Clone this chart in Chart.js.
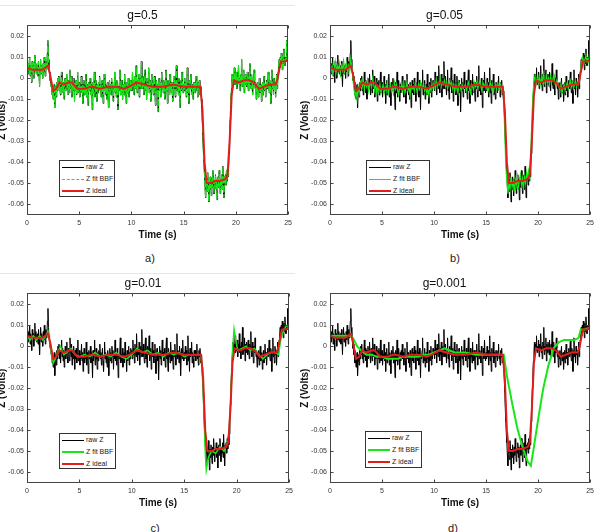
<!DOCTYPE html>
<html><head><meta charset="utf-8">
<script src="https://cdn.jsdelivr.net/npm/chart.js@4.4.1/dist/chart.umd.min.js"></script>
<style>
html,body{margin:0;padding:0;background:#fff;width:598px;height:532px;overflow:hidden;position:relative;font-family:"Liberation Sans",Arial,sans-serif}
canvas{position:absolute}
.tag{position:absolute;font-size:11px;color:#222;transform:translate(-50%,-50%)}
.rule{position:absolute;height:1px;background:#e6e6e6}
.leg{position:absolute;border:1px solid #333;background:#fff;font-size:7px;color:#222;padding:0 2px;box-sizing:border-box}
.leg div{height:12px;line-height:12px;white-space:nowrap}
.leg i{display:inline-block;width:22px;vertical-align:middle;margin-right:2px}
</style></head>
<body>
<div class="rule" style="left:0;top:5px;width:295px"></div>
<div class="rule" style="left:0;top:273px;width:295px"></div>
<script>
// ---------- data (values in millivolts, time in seconds) ----------
const xTicks = [0, 5, 10, 15, 20, 25];
const yTicks = [-0.06, -0.05, -0.04, -0.03, -0.02, -0.01, 0, 0.01, 0.02];
const seriesNames = ['raw Z', 'Z fit BBF', 'Z ideal'];
const panelTitles = ['g=0.5', 'g=0.05', 'g=0.01', 'g=0.001'];
const panelTags = ['a)', 'b)', 'c)', 'd)'];

// raw Z (mV), sampled every 0.05 s from t = 0 (one row per second)
const rawDt = 0.05;
const rawZmV = [
 5,9,2,7,4,10,1,6,3,-2,8,4,6,0,5,11,3,7,2,5,
 6,1,8,3,-4,5,9,2,6,4,0,7,3,10,5,1,8,4,6,12,
 18,9,5,3,-1,1,-4,-2,-8,-5,-10,-6,-3,-14,-7,-4,-9,-2,-6,0,
 -4,1,-6,-2,-8,-3,3,-5,-1,-7,-2,-10,-4,0,-6,-3,2,-5,-8,-1,
 -3,-7,4,-2,-5,1,-9,-3,-6,0,-4,-11,-2,-6,-1,-8,-4,3,-7,-5,
 -2,-9,-4,-6,1,-7,-3,-12,-5,-1,-8,-4,-6,2,-9,-3,-5,-13,-2,-6,
 -4,0,-8,-3,-6,-15,-2,-7,-4,3,-9,-5,-1,-6,-11,-3,-7,-2,-5,1,
 -6,-3,-9,-4,-1,-7,-12,-5,2,-6,-3,-8,-4,-10,-2,-6,-14,-4,-1,-7,
 -3,-8,0,-5,-2,-11,-4,-6,3,-7,-3,-9,-1,-5,-15,-4,-6,-2,4,-8,
 -4,-7,-1,-10,-5,-3,-8,2,-6,-4,-12,-2,-7,-5,0,-9,-3,-6,-1,-4,
 -2,-6,3,-4,-1,-8,1,-3,-5,6,-2,-7,-1,-4,2,-9,-3,0,-5,8,
 -2,-5,1,-4,-8,-1,4,-6,-3,-10,0,-4,-2,5,-7,-3,-1,-11,-4,2,
 -5,-2,-8,-3,1,-6,-13,-4,-1,-7,-3,-16,-5,0,-6,-2,-9,-4,3,-5,
 -3,-7,-1,-5,-10,-2,4,-6,-4,-12,-1,-5,-3,-8,2,-4,-7,-2,-6,-11,
 -2,-5,1,-4,-9,-3,6,-6,-2,-4,-8,0,-3,-14,-5,-1,-6,3,-4,-7,
 -3,-6,0,-5,-2,-9,-4,5,-7,-3,-12,-1,-5,-4,2,-8,-3,-6,-10,-2,
 -5,-2,-7,-3,1,-6,-4,-9,-2,-5,-1,-8,-4,-6,-10,-16,-22,-30,-36,-42,
 -46,-52,-57,-48,-51,-54,-45,-50,-59,-49,-53,-47,-51,-56,-48,-52,-44,-50,-55,-49,
 -51,-46,-53,-48,-58,-50,-47,-52,-44,-49,-55,-48,-51,-46,-53,-42,-50,-57,-47,-49,
 -46,-51,-44,-49,-43,-47,-42,-36,-28,-20,-13,-7,-3,2,-4,1,-2,5,-3,0,
 -2,3,-5,1,-1,6,-3,0,-6,2,-1,9,-4,0,-2,4,-7,1,-3,2,
 0,-4,3,-2,-6,1,-1,7,-3,-5,2,-2,-8,0,-3,4,-1,-5,-2,-10,
 -3,-6,-2,-9,-4,0,-7,-5,-3,-11,-6,-2,-8,-4,1,-6,-3,-9,-4,-1,
 -5,-2,3,-4,-7,-1,-3,-12,-2,4,-5,-3,-8,0,-4,-2,-9,-3,2,-5,
 -2,3,6,9,5,10,7,12,8,4,11,7,14,9,6,10,8,18,9,11,
 9
];

// Z ideal: [time s, mV]
const idealZ = [
 [0,5],[0.5,4],[1,4],[1.5,4],[2.0,6],[2.2,2],[2.5,-6],[2.8,-5],[3.1,-2],[3.5,-3],
 [4.0,-2],[4.3,-2],[4.8,-5],[5.5,-5],[6.2,-4],[7.0,-5],[7.8,-4],[8.5,-4],[9.3,-5],[9.8,-4],
 [10.5,-2],[11.2,-3],[12.0,-4],[13.0,-4],[14.0,-3],[15.0,-4],[16.0,-4],[16.6,-4],[16.8,-15],[17.0,-40],
 [17.2,-50],[17.6,-50],[18.0,-49],[18.5,-49],[19.0,-48],[19.2,-46],[19.4,-30],[19.6,-8],[19.8,-1],[20.3,-2],
 [20.8,-1],[21.3,-1],[21.7,-2],[22.2,-5],[22.7,-4],[23.2,-3],[23.8,-3],[24.0,0],[24.3,8],[24.7,8],[25,9]
];

// Z fit BBF, g=0.05 (mV), sampled every 0.1 s from t = 0 (one row per second)
const fitBDt = 0.1;
const fitBmV = [
 7,3,6,2,5,8,3,6,4,7,
 2,6,4,8,3,5,7,2,6,4,
 9,5,0,-5,-8,-6,-10,-4,-7,-2,
 -1,-4,0,-5,-2,-4,-1,-6,-3,-2,
 -4,0,-3,-6,-2,-7,-4,-6,-3,-7,
 -5,-3,-7,-4,-6,-2,-7,-5,-3,-6,
 -4,-7,-2,-5,-3,-6,-8,-4,-5,-2,
 -6,-3,-7,-5,-2,-6,-4,-8,-3,-5,
 -4,-6,-2,-5,-7,-3,-5,-2,-6,-4,
 -3,-6,-4,-7,-5,-8,-4,-6,-3,-5,
 -2,-5,-1,-4,-2,-3,0,-4,-2,-3,
 -1,-4,-2,-5,-3,-1,-4,-2,-5,-3,
 -6,-3,-5,-7,-2,-4,-6,-3,-5,-4,
 -3,-6,-4,-2,-5,-7,-3,-4,-6,-2,
 -4,-2,-5,-3,-1,-4,-6,-2,-4,-3,
 -5,-3,-6,-4,-2,-5,-3,-7,-4,-3,
 -5,-2,-4,-6,-3,-5,-4,-12,-26,-42,
 -49,-55,-50,-53,-47,-52,-49,-54,-48,-51,
 -47,-52,-49,-46,-51,-48,-53,-47,-50,-45,
 -48,-44,-47,-35,-20,-8,-2,1,-3,0,
 -2,1,-3,0,-2,2,-1,-3,1,-2,
 0,-3,1,-2,-1,2,-2,-4,-1,-3,
 -4,-6,-3,-7,-5,-3,-6,-4,-2,-5,
 -3,-1,-4,-2,-5,-3,-1,-4,-2,-3,
 1,5,8,10,7,9,11,8,10,7,
 9
];

// Z fit BBF, g=0.01: [time s, mV]
const fitC = [
 [0,5],[0.3,3],[0.6,5],[0.9,3],[1.2,5],[1.5,3],[1.8,5],[2.0,7],[2.2,1],[2.5,-8],
 [2.7,-6],[3.0,-2],[3.2,0],[3.5,-4],[3.8,-3],[4.2,-1],[4.6,-4],[5.0,-5],[5.5,-4],[6.0,-5],
 [6.5,-3],[7.0,-5],[7.5,-4],[8.0,-5],[8.5,-3],[9.0,-5],[9.5,-6],[10.0,-4],[10.5,-1],[11.0,-3],
 [11.5,-2],[12.0,-4],[12.5,-3],[13.0,-5],[13.5,-3],[14.0,-4],[14.5,-3],[15.0,-5],[15.5,-4],[16.0,-4],
 [16.6,-4],[16.8,-20],[17.0,-50],[17.1,-59],[17.3,-53],[17.6,-50],[18.0,-51],[18.4,-48],[18.8,-50],[19.2,-45],
 [19.4,-30],[19.6,-2],[19.75,8],[19.9,3],[20.1,-2],[20.5,-1],[20.9,0],[21.3,-2],[21.7,-1],[22.1,-4],
 [22.5,-6],[22.9,-4],[23.3,-3],[23.7,-3],[24.0,-4],[24.2,3],[24.5,8],[24.8,10],[25,9]
];

// Z fit BBF, g=0.001: [time s, mV]
const fitD = [
 [0,5],[0.5,5],[1,5],[1.5,5],[2.0,5],[2.2,4],[2.6,0],[3.0,-2],[3.5,-4],[4.0,-4],
 [4.5,-5],[5.0,-5],[5.5,-6],[6.0,-6],[6.5,-6],[7.0,-5],[7.5,-5],[8.0,-5],[8.5,-5],[9.0,-4],
 [9.5,-4],[10.0,-3],[10.5,-2],[11.0,-1],[11.5,-2],[12.0,-3],[13.0,-3],[14.0,-4],[15.0,-4],[16.0,-4],
 [16.7,-4],[17.0,-14],[17.5,-27],[18.0,-39],[18.5,-48],[19.0,-55],[19.3,-57],[19.6,-48],[20.0,-35],[20.5,-20],
 [21.0,-9],[21.5,-1],[22.0,2],[22.5,3],[23.0,3],[23.5,3],[23.9,4],[24.1,8],[24.5,8],[25,9]
];

// ---------- rendering ----------
const FONT = '"Liberation Sans", Arial, sans-serif';
const GREEN = '#19e619', RED = '#e01e1e', BLACK = '#000';
const MV = 0.001; // millivolt -> volt
const seqPts = (arr, dt) => arr.map((v, i) => ({x: i * dt, y: v * MV}));
const pairPts = a => a.map(p => ({x: p[0], y: p[1] * MV}));
const rawPts = seqPts(rawZmV, rawDt);
const idealPts = pairPts(idealZ);
const fitBPts = seqPts(fitBmV, fitBDt);

const frame = {id: 'frame', afterDraw(chart) {
  const {ctx, chartArea: a, scales: {x, y}} = chart;
  ctx.save(); ctx.strokeStyle = '#444'; ctx.lineWidth = 1;
  const L = Math.round(a.left) + .5, R = Math.round(a.right) - .5, T = Math.round(a.top) + .5, B = Math.round(a.bottom) - .5;
  ctx.strokeRect(L, T, R - L, B - T);
  ctx.beginPath();
  x.ticks.forEach(t => { const p = Math.round(x.getPixelForValue(t.value)) + .5; ctx.moveTo(p, B); ctx.lineTo(p, B - 3); ctx.moveTo(p, T); ctx.lineTo(p, T + 3); });
  y.ticks.forEach(t => { const p = Math.round(y.getPixelForValue(t.value)) + .5; ctx.moveTo(L, p); ctx.lineTo(L + 3, p); ctx.moveTo(R, p); ctx.lineTo(R - 3, p); });
  ctx.stroke(); ctx.restore();
}};

const panels = [
  {left: -5, top: 0, w: 301, padR: 6, fit: rawPts, fitW: 1.2, fitDash: [7, 2], leg: [59, 160, 56, 37], tag: [150, 258]},
  {left: 298, top: 0, w: 300, padR: 7, fit: fitBPts, fitW: 1.2, fitDash: [], leg: [366, 160, 64, 35], tag: [455, 258]},
  {left: -5, top: 268, w: 302, padR: 6, fit: pairPts(fitC), fitW: 1.5, fitDash: [], leg: [59, 433, 57, 36], tag: [155, 528]},
  {left: 298, top: 268, w: 300, padR: 7, fit: pairPts(fitD), fitW: 2, fitDash: [], leg: [365, 431, 57, 37], tag: [453, 528]}
];
const H = 245;

panels.forEach((p, k) => {
  const c = document.createElement('canvas');
  c.width = p.w; c.height = H;
  c.style.left = p.left + 'px'; c.style.top = p.top + 'px';
  c.style.width = p.w + 'px'; c.style.height = H + 'px';
  document.body.appendChild(c);
  const tickFont = {family: FONT, size: 7};
  new Chart(c, {
    type: 'line',
    data: {datasets: [
      {label: seriesNames[0], data: rawPts, borderColor: BLACK, borderWidth: 1, pointRadius: 0, order: 3},
      {label: seriesNames[1], data: p.fit, borderColor: GREEN, borderWidth: p.fitW, borderDash: p.fitDash, pointRadius: 0, order: 2},
      {label: seriesNames[2], data: idealPts, borderColor: RED, borderWidth: 2, pointRadius: 0, order: 1}
    ]},
    options: {
      responsive: false, animation: false, devicePixelRatio: 1,
      layout: {padding: {left: 0, right: p.padR, top: 0, bottom: 0}},
      plugins: {
        legend: {display: false}, tooltip: {enabled: false},
        title: {display: true, text: panelTitles[k], color: '#111', font: {family: FONT, size: 12, weight: 'normal'}, padding: {top: 8, bottom: 3}}
      },
      scales: {
        x: {type: 'linear', min: 0, max: 25,
          afterBuildTicks: s => { s.ticks = xTicks.map(v => ({value: v})); },
          afterFit: s => { s.height = 30; },
          grid: {display: false, drawTicks: false}, border: {display: false},
          ticks: {font: tickFont, color: '#333', padding: 4, maxRotation: 0, autoSkip: false},
          title: {display: true, text: 'Time (s)', color: '#111', font: {family: FONT, size: 10, weight: 'bold'}, padding: {top: 0, bottom: 4}}},
        y: {type: 'linear', min: -0.0652, max: 0.0252,
          afterBuildTicks: s => { s.ticks = yTicks.map(v => ({value: v})); },
          afterFit: s => { s.width = 32; },
          grid: {display: false, drawTicks: false}, border: {display: false},
          ticks: {font: tickFont, color: '#333', padding: 3, autoSkip: false, callback: v => String(+v.toFixed(2))},
          title: {display: true, text: 'Z (Volts)', color: '#111', font: {family: FONT, size: 10, weight: 'bold'}, padding: {top: 1, bottom: 0}}}
      }
    },
    plugins: [frame]
  });

  // legend inside the axes (lower left)
  const lg = document.createElement('div');
  lg.className = 'leg';
  lg.style.left = p.leg[0] + 'px'; lg.style.top = p.leg[1] + 'px';
  lg.style.width = p.leg[2] + 'px'; lg.style.height = p.leg[3] + 'px';
  const styles = [
    'border-top:1px solid ' + BLACK,
    'border-top:' + Math.round(p.fitW) + 'px ' + (p.fitDash.length ? 'dashed ' : 'solid ') + GREEN,
    'border-top:2px solid ' + RED
  ];
  seriesNames.forEach((n, j) => {
    const row = document.createElement('div');
    row.innerHTML = '<i style="' + styles[j] + '"></i>';
    row.appendChild(document.createTextNode(n));
    lg.appendChild(row);
  });
  document.body.appendChild(lg);

  const t = document.createElement('div');
  t.className = 'tag';
  t.style.left = p.tag[0] + 'px'; t.style.top = p.tag[1] + 'px';
  t.textContent = panelTags[k];
  document.body.appendChild(t);
});
</script>
</body></html>
